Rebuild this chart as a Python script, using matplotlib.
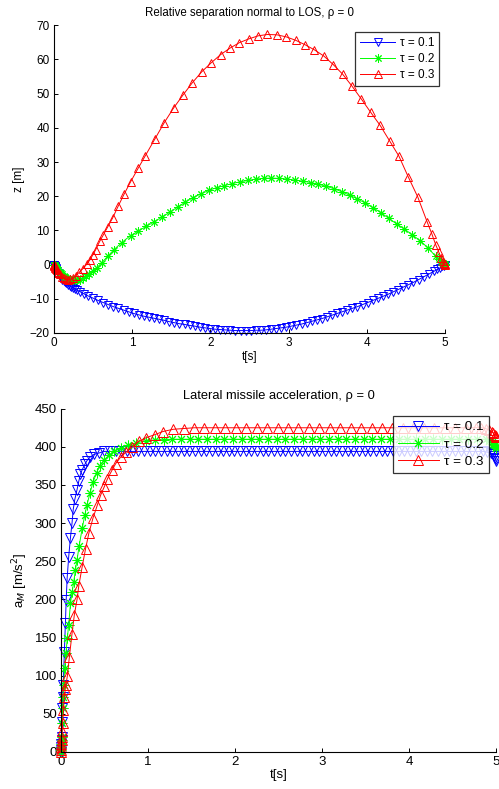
"""Relative separation and lateral acceleration for three time constants"""
import matplotlib.pyplot as plt

plt.rcParams['font.family'] = ['Liberation Sans', 'DejaVu Sans']

LABELS = ['τ = 0.1', 'τ = 0.2', 'τ = 0.3']

# tau = 0.1
T_01 = [0, 0.002, 0.004, 0.006, 0.008, 0.010, 0.014, 0.018, 0.022, 0.027,
        0.040, 0.052, 0.061, 0.072, 0.090, 0.110, 0.128, 0.142, 0.160, 0.186,
        0.206, 0.225, 0.245, 0.276, 0.300, 0.340, 0.380, 0.440, 0.500,
        0.565, 0.63, 0.695, 0.76, 0.825, 0.89, 0.955, 1.02, 1.085, 1.15,
        1.215, 1.28, 1.345, 1.41, 1.475, 1.54, 1.605, 1.67, 1.735, 1.8,
        1.865, 1.93, 1.995, 2.06, 2.125, 2.19, 2.255, 2.32, 2.385, 2.45,
        2.515, 2.58, 2.645, 2.71, 2.775, 2.84, 2.905, 2.97, 3.035, 3.1,
        3.165, 3.23, 3.295, 3.36, 3.425, 3.49, 3.555, 3.62, 3.685, 3.75,
        3.815, 3.88, 3.945, 4.01, 4.075, 4.14, 4.205, 4.27, 4.335, 4.4,
        4.465, 4.53, 4.595, 4.66, 4.725, 4.79, 4.855, 4.9,
        4.94, 4.965, 4.98, 4.99, 4.997, 5.0]
Z_01 = [0, -0.1, -0.2, -0.3, -0.4, -0.5, -0.7, -0.9, -1.1, -1.4,
        -2.0, -2.5, -2.8, -3.2, -3.8, -4.4, -4.8, -5.1, -5.5, -5.9,
        -6.2, -6.5, -6.8, -7.2, -7.5, -8.0, -8.5, -9.2, -9.8,
        -10.5, -11.1, -11.7, -12.3, -12.8, -13.3, -13.8, -14.3, -14.7, -15.1,
        -15.4, -15.7, -16.0, -16.3, -16.7, -17.0, -17.3, -17.5, -17.8, -18.0,
        -18.3, -18.5, -18.7, -18.9, -19.0, -19.1, -19.2, -19.3, -19.3, -19.3,
        -19.3, -19.2, -19.2, -19.1, -18.9, -18.7, -18.5, -18.3, -18.0, -17.7,
        -17.4, -17.0, -16.6, -16.2, -15.8, -15.3, -14.8, -14.3, -13.8, -13.3,
        -12.8, -12.3, -11.7, -11.1, -10.5, -9.9, -9.3, -8.7, -8.0, -7.3,
        -6.6, -5.9, -5.2, -4.4, -3.6, -2.8, -2.0, -1.4,
        -0.9, -0.5, -0.3, -0.15, -0.05, 0.0]
A_01 = [0, 3, 7, 11, 15, 20, 39, 58, 72, 88,
        131, 169, 199, 228, 256, 281, 300, 318, 331, 344,
        355, 364, 370, 377, 382, 387, 390, 392, 394,
        394, 394, 394, 394, 394, 394, 394, 394, 394, 394,
        394, 394, 394, 394, 394, 394, 394, 394, 394, 394,
        394, 394, 394, 394, 394, 394, 394, 394, 394, 394,
        394, 394, 394, 394, 394, 394, 394, 394, 394, 394,
        394, 394, 394, 394, 394, 394, 394, 394, 394, 394,
        394, 394, 394, 394, 394, 394, 394, 394, 394, 394,
        394, 394, 394, 394, 394, 394, 394, 393,
        392, 390, 388, 386, 384, 382]

# tau = 0.2
T_02 = [0, 0.002, 0.004, 0.006, 0.008, 0.010, 0.015, 0.020, 0.025, 0.031,
        0.045, 0.058, 0.075, 0.090, 0.110, 0.130, 0.148, 0.166, 0.186, 0.210,
        0.245, 0.276, 0.300, 0.334, 0.370, 0.410, 0.445, 0.500, 0.550, 0.610,
        0.690, 0.770, 0.865, 0.980,
        1.08, 1.18, 1.28, 1.38, 1.48, 1.58, 1.68, 1.78, 1.88, 1.98,
        2.08, 2.18, 2.28, 2.38, 2.48, 2.58, 2.68, 2.78, 2.88, 2.98,
        3.08, 3.18, 3.28, 3.38, 3.48, 3.58, 3.68, 3.78, 3.88, 3.98,
        4.08, 4.18, 4.28, 4.38, 4.48, 4.58, 4.68, 4.78, 4.88,
        4.92, 4.95, 4.97, 4.985, 4.995, 5.0]
Z_02 = [0, -0.05, -0.1, -0.15, -0.2, -0.3, -0.4, -0.5, -0.7, -0.9,
        -1.3, -1.7, -2.1, -2.5, -2.9, -3.3, -3.6, -3.9, -4.1, -4.3,
        -4.5, -4.6, -4.6, -4.4, -4.0, -3.3, -2.7, -1.8, -0.9, 0.5,
        2.5, 4.4, 6.4, 8.5,
        9.8, 11.2, 12.5, 13.9, 15.3, 16.8, 18.3, 19.6, 20.7, 21.7,
        22.5, 23.1, 23.7, 24.2, 24.6, 25.0, 25.2, 25.3, 25.2, 25.0,
        24.7, 24.4, 24.0, 23.5, 22.9, 22.2, 21.3, 20.3, 19.2, 18.0,
        16.6, 15.2, 13.5, 11.9, 10.4, 8.7, 7.0, 4.9, 2.4,
        1.5, 0.9, 0.5, 0.25, 0.1, 0.0]
A_02 = [0, 3, 7, 11, 15, 20, 38, 58, 72, 88,
        110, 130, 150, 167, 195, 210, 223, 238, 252, 270,
        293, 311, 324, 339, 354, 366, 375, 383, 389, 394,
        398, 402, 405, 408,
        409, 409.5, 410, 410, 410, 410, 410, 410, 410, 410,
        410, 410, 410, 410, 410, 410, 410, 410, 410, 410,
        410, 410, 410, 410, 410, 410, 410, 410, 410, 410,
        410, 410, 410, 410, 410, 410, 410, 410, 410,
        408, 406, 404, 402, 400, 399]

# tau = 0.3
T_03 = [0, 0.002, 0.004, 0.006, 0.008, 0.010, 0.015, 0.020, 0.030, 0.040,
        0.050, 0.058, 0.075, 0.098, 0.128, 0.155, 0.186, 0.206, 0.245, 0.283,
        0.322, 0.370, 0.420, 0.458, 0.500, 0.535, 0.586, 0.630, 0.690, 0.750,
        0.820, 0.895, 0.980, 1.080, 1.170,
        1.29, 1.41, 1.53, 1.65, 1.77, 1.89, 2.01, 2.13, 2.25, 2.37,
        2.49, 2.61, 2.73, 2.85, 2.97, 3.09, 3.21, 3.33, 3.45, 3.57,
        3.69, 3.81, 3.93, 4.05, 4.17, 4.29, 4.41, 4.53, 4.65, 4.77,
        4.83, 4.88, 4.92, 4.95, 4.97, 4.985, 4.995, 5.0]
Z_03 = [0, -0.1, -0.2, -0.3, -0.4, -0.5, -0.7, -0.9, -1.3, -1.7,
        -2.1, -2.4, -2.9, -3.5, -4.0, -4.3, -4.4, -4.3, -3.9, -3.2,
        -2.3, -1.2, 0.1, 1.3, 2.9, 4.4, 6.8, 8.6, 11.1, 13.6,
        17.0, 20.5, 24.2, 28.3, 31.9,
        36.7, 41.5, 45.8, 49.6, 53.2, 56.4, 59.0, 61.4, 63.3, 64.9,
        66.0, 66.9, 67.3, 67.2, 66.6, 65.6, 64.3, 62.8, 61.0, 58.5,
        55.7, 52.2, 48.4, 44.5, 40.7, 36.2, 31.7, 25.6, 19.8, 12.5,
        9.0, 5.8, 3.6, 2.0, 1.1, 0.5, 0.15, 0.0]
A_03 = [0, 3, 7, 11, 15, 20, 28, 38, 55, 72,
        82, 88, 100, 125, 155, 180, 200, 218, 243, 266,
        287, 307, 324, 337, 348, 358, 369, 378, 387, 393,
        400, 407, 412, 416, 420,
        423, 424, 425, 425, 425, 425, 425, 425, 425, 425,
        425, 425, 425, 425, 425, 425, 425, 425, 425, 425,
        425, 425, 425, 425, 425, 425, 425, 425, 425, 425,
        425, 424, 422, 420, 418, 416, 414, 413]

# MATLAB-маркеры: 'v' и '^' пустые, '*' как звёздочка из линий
STYLES = [dict(color='b', marker='v', fill='none'),
          dict(color='lime', marker=(8, 2, 0), fill='lime'),
          dict(color='r', marker='^', fill='none')]


def style_axes(ax, fontsize):
    """Оси в духе MATLAB: без рамки сверху и справа, засечки внутрь"""
    for side in ('top', 'right'):
        ax.spines[side].set_visible(False)
    for side in ('left', 'bottom'):
        ax.spines[side].set_linewidth(0.8)
    ax.tick_params(direction='in', length=3, width=0.7, labelsize=fontsize, pad=3)


def draw_panel(ax, series, title, ylabel, ylim, yticks, sizes, msize, legend_anchor):
    """Три кривые с маркерами, легенда в правом верхнем углу"""
    tick_fs, title_fs, legend_fs = sizes
    for (t, y), label, style in zip(series, LABELS, STYLES):
        ax.plot(t, y, linestyle='-', lw=0.7, marker=style['marker'], color=style['color'],
                markerfacecolor=style['fill'], markeredgecolor=style['color'], markeredgewidth=0.7,
                markersize=msize, label=label, clip_on=False)
    ax.set_xlim(0, 5)
    ax.set_ylim(*ylim)
    ax.set_yticks(yticks)
    ax.set_xticks(range(6))
    ax.set_title(title, fontsize=title_fs, pad=7)
    ax.set_xlabel('t[s]', fontsize=tick_fs, labelpad=1)
    ax.set_ylabel(ylabel, fontsize=tick_fs, labelpad=3)
    style_axes(ax, tick_fs)
    leg = ax.legend(loc='upper right', bbox_to_anchor=legend_anchor, borderaxespad=0,
                    fontsize=legend_fs, fancybox=False, handlelength=3.0,
                    handletextpad=0.4, borderpad=0.4, labelspacing=0.35)
    leg.get_frame().set_edgecolor('k')
    leg.get_frame().set_linewidth(0.9)


fig = plt.figure(figsize=(4.99, 7.89), dpi=100)
ax_top = fig.add_axes([0.108, 0.578, 0.784, 0.390])
ax_bottom = fig.add_axes([0.122, 0.047, 0.872, 0.435])

draw_panel(ax_top, [(T_01, Z_01), (T_02, Z_02), (T_03, Z_03)],
           'Relative separation normal to LOS, ρ = 0', 'z [m]',
           (-20, 70), range(-20, 71, 10), (8.5, 8.3, 8.5), 6, (0.985, 0.977))
draw_panel(ax_bottom, [(T_01, A_01), (T_02, A_02), (T_03, A_03)],
           'Lateral missile acceleration, ρ = 0', 'a$_M$ [m/s$^2$]',
           (0, 450), range(0, 451, 50), (9.5, 9.3, 9.7), 7, (0.984, 0.980))

fig.savefig('out.png', dpi=100)
